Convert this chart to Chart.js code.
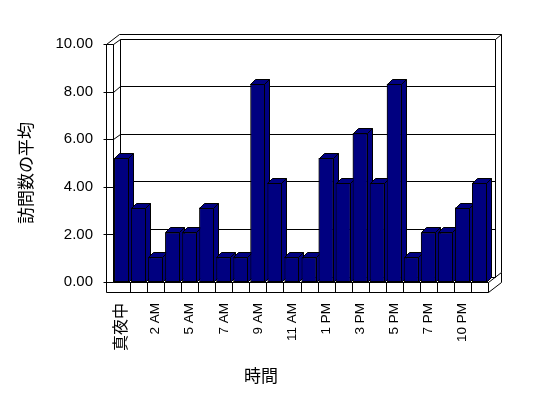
<!DOCTYPE html>
<html>
<head>
<meta charset="utf-8">
<script src="https://cdn.jsdelivr.net/npm/chart.js@4.4.0/dist/chart.umd.min.js"></script>
<style>
  html, body { margin: 0; padding: 0; background: #fff; }
  #c { display: block; }
</style>
</head>
<body>
<canvas id="c" width="548" height="398"></canvas>
<script>
// 時間帯 (22 件, ラベルは1つおきに表示)
const hours = ['真夜中', '1 AM', '2 AM', '4 AM', '5 AM', '6 AM', '7 AM', '8 AM',
  '9 AM', '10 AM', '11 AM', '正午', '1 PM', '2 PM', '3 PM', '4 PM', '5 PM', '6 PM',
  '7 PM', '9 PM', '10 PM', '11 PM'];

// 訪問数の平均
const avgVisits = [5.21, 3.13, 1.04, 2.08, 2.08, 3.13, 1.04, 1.04, 8.33, 4.17, 1.04,
  1.04, 5.21, 4.17, 6.25, 4.17, 8.33, 1.04, 2.08, 2.08, 3.13, 4.17];

const yTicks = [0, 2, 4, 6, 8, 10];

const xTitle = '時間';
const yTitle = '訪問数の平均';

// 3D っぽい見た目の寸法 (px)
const DEPTH = { x: 7, y: -5.5 };  // 前面から奥の壁まで
const WALL = { x: 6, y: -4.5 };   // 奥の壁の厚み
const SIDE_W = 7.5;               // 左の壁の前面幅
const FLOOR_H = 10;               // 床の厚み
const BAR_D = 5;                  // 棒の奥行き
const NAVY = '#000080';

const px = v => Math.round(v) + 0.5;

function line(ctx, pts) {
  ctx.beginPath();
  ctx.moveTo(px(pts[0][0]), px(pts[0][1]));
  for (let i = 1; i < pts.length; i++) ctx.lineTo(px(pts[i][0]), px(pts[i][1]));
  ctx.stroke();
}

function poly(ctx, pts) {
  ctx.beginPath();
  ctx.moveTo(pts[0][0], pts[0][1]);
  for (let i = 1; i < pts.length; i++) ctx.lineTo(pts[i][0], pts[i][1]);
  ctx.closePath();
  ctx.fill();
  ctx.stroke();
}

// 壁・床・目盛線
const box3d = {
  id: 'box3d',
  beforeDatasetsDraw(chart) {
    const { ctx, chartArea: a, scales: { x, y } } = chart;
    const L = a.left, R = a.right;
    const T = y.getPixelForValue(yTicks[yTicks.length - 1]);
    const B = y.getPixelForValue(0);
    const dx = DEPTH.x, dy = DEPTH.y, tx = WALL.x, ty = WALL.y;
    const w = SIDE_W, h = FLOOR_H;

    ctx.save();
    ctx.strokeStyle = '#000';
    ctx.lineWidth = 1;

    // 奥の壁
    line(ctx, [[L - w, T], [L - w + dx + tx, T + dy + ty], [R + dx + tx, T + dy + ty],
      [R + dx + tx, B + dy + ty]]);
    line(ctx, [[R + dx, T + dy], [R + dx + tx, T + dy + ty]]);
    line(ctx, [[L, T], [L + dx, T + dy], [R + dx, T + dy], [R + dx, B + dy], [L + dx, B + dy], [L + dx, T + dy]]);

    // 目盛線 (左の壁の前面 → 側面 → 奥の壁)
    yTicks.forEach(v => {
      const yy = y.getPixelForValue(v);
      line(ctx, [[L - w - 3, yy], [L, yy]]);
      if (v > 0 && v < yTicks[yTicks.length - 1]) {
        line(ctx, [[L, yy], [L + dx, yy + dy], [R + dx, yy + dy]]);
      }
    });

    // 左の壁
    line(ctx, [[L - w, T], [L, T], [L, B]]);
    line(ctx, [[L - w, T], [L - w, B + h]]);

    // 床
    line(ctx, [[L, B], [L + dx, B + dy]]);
    line(ctx, [[L, B], [R, B], [R, B + h], [L - w, B + h]]);
    line(ctx, [[R, B], [R + dx + tx, B + dy + ty]]);
    line(ctx, [[R, B + h], [R + dx + tx, B + h + dy + ty], [R + dx + tx, B + dy + ty]]);
    for (let i = 1; i < hours.length; i++) {
      const xx = (x.getPixelForValue(i - 1) + x.getPixelForValue(i)) / 2;
      line(ctx, [[xx, B], [xx, B + h]]);
    }
    ctx.restore();
  },

  // 棒の上面・側面。次の棒の前面を描き直して重なりを合わせる
  afterDatasetsDraw(chart) {
    const { ctx } = chart;
    const meta = chart.getDatasetMeta(0);
    const d = BAR_D;
    ctx.save();
    ctx.strokeStyle = '#000';
    ctx.fillStyle = NAVY;
    ctx.lineWidth = 1;
    meta.data.forEach((bar, i) => {
      const { x: cx, y: top, base, width } = bar.getProps(['x', 'y', 'base', 'width'], true);
      const x0 = Math.round(cx - width / 2) + 0.5, x1 = Math.round(cx + width / 2) - 0.5;
      const t = Math.round(top) + 0.5, b = Math.round(base) + 0.5;
      poly(ctx, [[x0, t], [x1, t], [x1 + d, t - d], [x0 + d, t - d]]);
      poly(ctx, [[x1, t], [x1 + d, t - d], [x1 + d, b - d], [x1, b]]);
      if (i + 1 < meta.data.length) {
        ctx.save();
        meta.data[i + 1].draw(ctx);
        ctx.restore();
      }
    });
    ctx.restore();
  },

  afterDraw(chart) {
    const { ctx } = chart;
    ctx.save();
    ctx.fillStyle = '#000';
    ctx.font = '17px "Noto Sans CJK JP"';
    ctx.textAlign = 'center';
    ctx.textBaseline = 'middle';
    ctx.fillText(xTitle, 261, 376);
    ctx.translate(26, 173);
    ctx.rotate(-Math.PI / 2);
    ctx.fillText(yTitle, 0, 0);
    ctx.restore();
  }
};

new Chart(document.getElementById('c'), {
  type: 'bar',
  data: {
    labels: hours,
    datasets: [{
      label: yTitle,
      data: avgVisits,
      backgroundColor: NAVY,
      borderColor: '#000',
      borderWidth: 1,
      borderSkipped: false,
      inflateAmount: 0,
      categoryPercentage: 1,
      barPercentage: 0.88
    }]
  },
  options: {
    responsive: false,
    animation: false,
    devicePixelRatio: 1,
    layout: { padding: { top: 44, right: 60, left: 0, bottom: 0 } },
    plugins: {
      legend: { display: false },
      tooltip: { enabled: false }
    },
    scales: {
      x: {
        grid: { display: false, drawTicks: false },
        border: { display: false },
        afterFit(scale) { scale.height = 116; },
        ticks: {
          autoSkip: false,
          minRotation: 90,
          maxRotation: 90,
          padding: 21,
          color: '#000',
          font: c => ({ family: '"Liberation Sans", "Noto Sans CJK JP"', size: c.index === 0 ? 16 : 13.5 }),
          callback: (v, i) => (i % 2 === 0 ? hours[i] : '')
        }
      },
      y: {
        min: 0,
        max: 10,
        grid: { display: false, drawTicks: false },
        border: { display: false },
        afterFit(scale) { scale.width = 113; },
        afterBuildTicks(scale) { scale.ticks = yTicks.map(v => ({ value: v })); },
        ticks: {
          padding: 20,
          color: '#000',
          font: { family: '"Liberation Sans"', size: 15 },
          callback: v => Number(v).toFixed(2)
        }
      }
    }
  },
  plugins: [box3d]
});
</script>
</body>
</html>
